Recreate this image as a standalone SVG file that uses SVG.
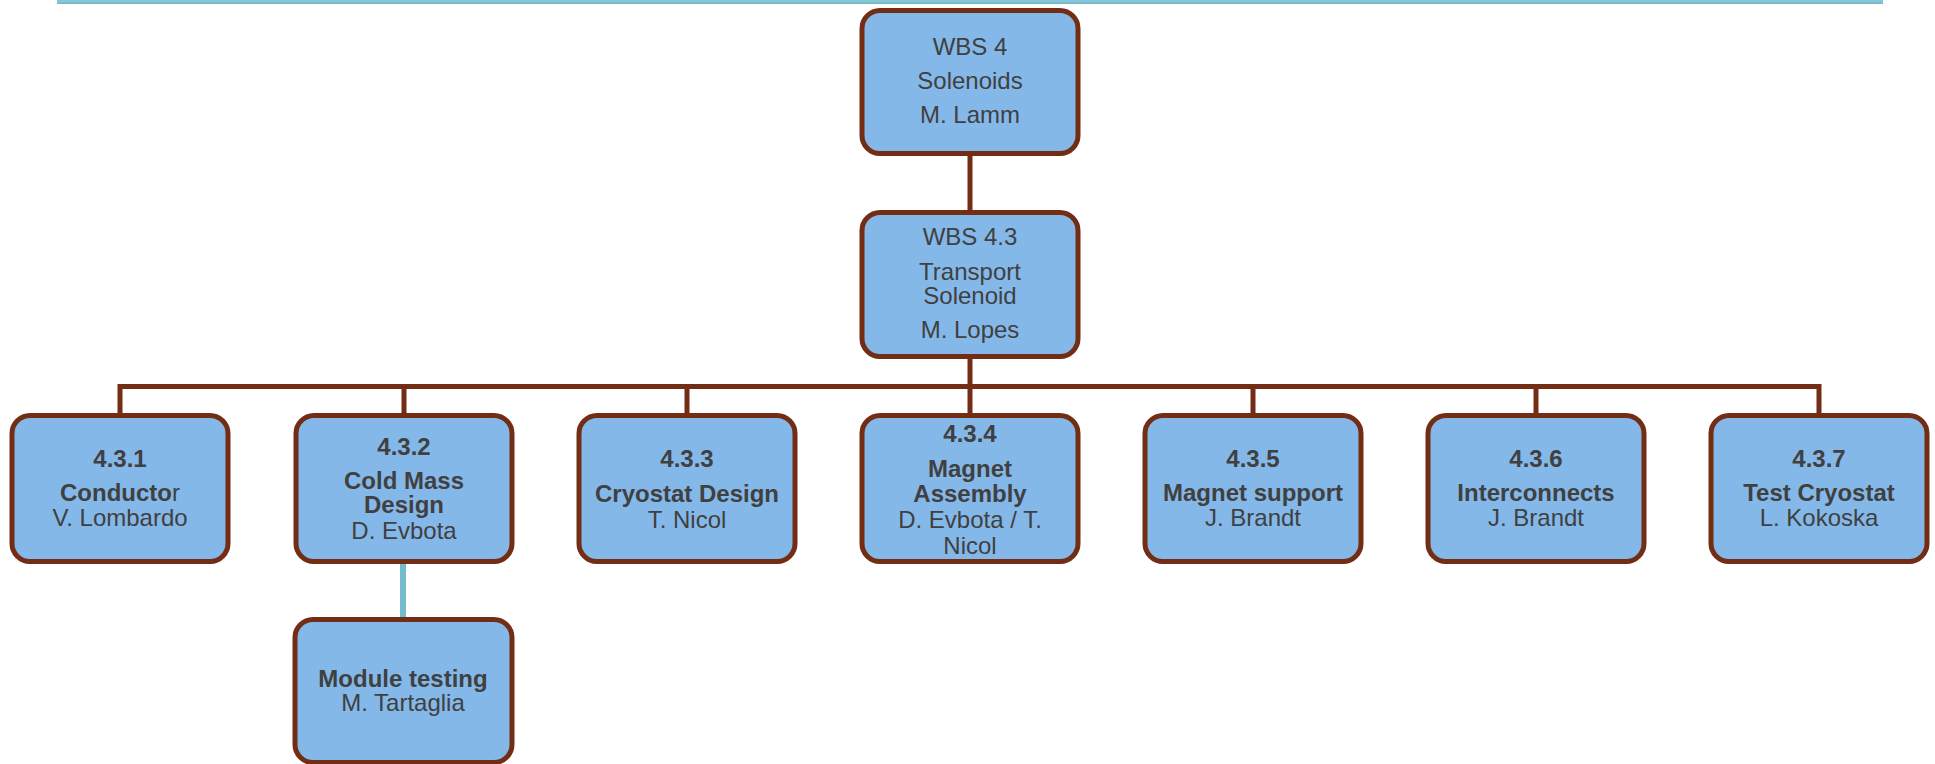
<svg xmlns="http://www.w3.org/2000/svg" width="1935" height="764" viewBox="0 0 1935 764">
  <style>
    .box { fill: #84b8e9; stroke: #722d14; stroke-width: 5; }
    .link { stroke: #722d14; stroke-width: 5; fill: none; }
    .sublink { stroke: #74bccb; stroke-width: 6; fill: none; }
    text { font-family: "Liberation Sans", Arial, sans-serif; font-size: 24px; fill: #404040; text-anchor: middle; }
    .b { font-weight: bold; }
  </style>

  <!-- header rule -->
  <rect x="57" y="0" width="1826" height="4" fill="#86c8d9"/>
  <rect x="57" y="2.5" width="1826" height="1.5" fill="#74b5c7"/>

  <!-- connectors -->
  <g id="connectors">
    <line class="link" x1="970" y1="156" x2="970" y2="211"/>
    <line class="link" x1="970" y1="358" x2="970" y2="414"/>
    <path class="link" d="M120 414 V386.5 H1819 V414"/>
    <line class="link" x1="404" y1="386.5" x2="404" y2="414"/>
    <line class="link" x1="687" y1="386.5" x2="687" y2="414"/>
    <line class="link" x1="1253" y1="386.5" x2="1253" y2="414"/>
    <line class="link" x1="1536" y1="386.5" x2="1536" y2="414"/>
    <line class="sublink" x1="403" y1="563" x2="403" y2="618"/>
  </g>

  <g id="wbs4">
    <rect class="box" x="862" y="10.5" width="216" height="143" rx="18"/>
    <text x="970" y="55">WBS 4</text>
    <text x="970" y="89">Solenoids</text>
    <text x="970" y="123">M. Lamm</text>
  </g>

  <g id="wbs4-3">
    <rect class="box" x="862" y="212.5" width="216" height="144" rx="18"/>
    <text x="970" y="245">WBS 4.3</text>
    <text x="970" y="280">Transport</text>
    <text x="970" y="304">Solenoid</text>
    <text x="970" y="338">M. Lopes</text>
  </g>

  <g id="wbs4-3-1">
    <rect class="box" x="12" y="415.5" width="216" height="146" rx="18"/>
    <text class="b" x="120" y="467">4.3.1</text>
    <text class="b" x="120" y="501">Conducto<tspan font-weight="normal">r</tspan></text>
    <text x="120" y="526">V. Lombardo</text>
  </g>

  <g id="wbs4-3-2">
    <rect class="box" x="296" y="415.5" width="216" height="146" rx="18"/>
    <text class="b" x="404" y="455">4.3.2</text>
    <text class="b" x="404" y="489">Cold Mass</text>
    <text class="b" x="404" y="513">Design</text>
    <text x="404" y="539">D. Evbota</text>
  </g>

  <g id="wbs4-3-3">
    <rect class="box" x="579" y="415.5" width="216" height="146" rx="18"/>
    <text class="b" x="687" y="467">4.3.3</text>
    <text class="b" x="687" y="502">Cryostat Design</text>
    <text x="687" y="528">T. Nicol</text>
  </g>

  <g id="wbs4-3-4">
    <rect class="box" x="862" y="415.5" width="216" height="146" rx="18"/>
    <text class="b" x="970" y="442">4.3.4</text>
    <text class="b" x="970" y="477">Magnet</text>
    <text class="b" x="970" y="502">Assembly</text>
    <text x="970" y="528">D. Evbota / T.</text>
    <text x="970" y="554">Nicol</text>
  </g>

  <g id="wbs4-3-5">
    <rect class="box" x="1145" y="415.5" width="216" height="146" rx="18"/>
    <text class="b" x="1253" y="467">4.3.5</text>
    <text class="b" x="1253" y="501">Magnet support</text>
    <text x="1253" y="526">J. Brandt</text>
  </g>

  <g id="wbs4-3-6">
    <rect class="box" x="1428" y="415.5" width="216" height="146" rx="18"/>
    <text class="b" x="1536" y="467">4.3.6</text>
    <text class="b" x="1536" y="501">Interconnects</text>
    <text x="1536" y="526">J. Brandt</text>
  </g>

  <g id="wbs4-3-7">
    <rect class="box" x="1711" y="415.5" width="216" height="146" rx="18"/>
    <text class="b" x="1819" y="467">4.3.7</text>
    <text class="b" x="1819" y="501">Test Cryostat</text>
    <text x="1819" y="526">L. Kokoska</text>
  </g>

  <g id="module-testing">
    <rect class="box" x="295" y="619.5" width="217" height="143" rx="18"/>
    <text class="b" x="403" y="687">Module testing</text>
    <text x="403" y="711">M. Tartaglia</text>
  </g>
</svg>
